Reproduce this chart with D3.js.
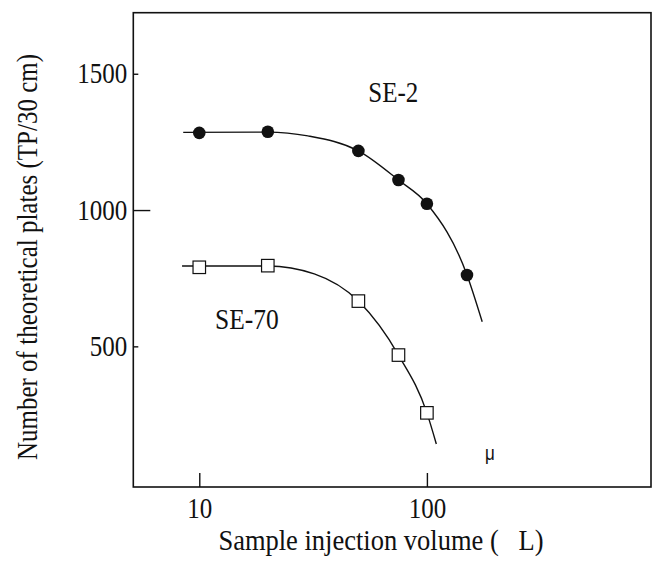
<!DOCTYPE html>
<html>
<head>
<meta charset="utf-8">
<script src="https://cdn.jsdelivr.net/npm/d3@7"></script>
<style>
  body { margin: 0; background: #fff; }
  text { font-family: "Liberation Serif", "Times New Roman", serif; fill: #111; }
</style>
</head>
<body>
<svg id="body" width="659" height="565"></svg>
<script>
// measured points
const se2Volume = [10, 20, 50, 75, 100, 150]
const se2Plates = [1283, 1287, 1217, 1110, 1023, 762]
const se70Volume = [10, 20, 50, 75, 100]
const se70Plates = [790, 796, 666, 468, 256]

// hand drawn fit lines
const se2CurveVolume = [8.5, 20, 30, 50, 75, 100, 150, 175]
const se2CurvePlates = [1285, 1286, 1272, 1217, 1110, 1023, 762, 590]
const se70CurveVolume = [8.4, 20, 32, 50, 75, 100, 110]
const se70CurvePlates = [795, 795, 766, 666, 468, 256, 142]

const xTicks = [10, 100]
const yTicks = [500, 1000, 1500]

const svg = d3.select("#body")
const plotLeft = 133.3, plotRight = 651, plotTop = 12.7, plotBottom = 487
const stretch = 1.15 // glyphs in the original are a bit taller than Times

const x = d3.scaleLog().domain([5.13, 965]).range([plotLeft, plotRight])
const y = d3.scaleLinear().domain([-16, 1724]).range([plotBottom, plotTop])

// frame
svg.append("rect")
    .attr("x", plotLeft).attr("y", plotTop)
    .attr("width", plotRight - plotLeft).attr("height", plotBottom - plotTop)
    .attr("fill", "none").attr("stroke", "#111").attr("stroke-width", 1.6)

const yAxis = svg.append("g")
    .attr("transform", `translate(${plotLeft},0)`)
    .call(d3.axisLeft(y).tickValues(yTicks).tickFormat(d3.format("d"))
        .tickSizeInner(-5).tickSizeOuter(0).tickPadding(6))
yAxis.select(".domain").remove()
yAxis.selectAll("line").attr("stroke", "#111").attr("stroke-width", 1.4)
    .attr("x2", d => d === 1000 ? 17 : 5)
yAxis.selectAll("text").attr("font-size", 25).attr("fill", "#111")
    .style("font-family", "'Liberation Serif', serif")
    .attr("transform", `scale(1,${stretch})`)

const xAxis = svg.append("g")
    .attr("transform", `translate(0,${plotBottom})`)
    .call(d3.axisBottom(x).tickValues(xTicks).tickFormat(d3.format("d"))
        .tickSizeInner(-14).tickSizeOuter(0).tickPadding(9))
xAxis.select(".domain").remove()
xAxis.selectAll("line").attr("stroke", "#111").attr("stroke-width", 1.4)
xAxis.selectAll("text").attr("font-size", 25).attr("fill", "#111")
    .style("font-family", "'Liberation Serif', serif")
    .attr("transform", `scale(1,${stretch})`)

// curves
const line = d3.line()
    .x(d => x(d[0]))
    .y(d => y(d[1]))
    .curve(d3.curveMonotoneX)

svg.append("path")
    .datum(d3.zip(se2CurveVolume, se2CurvePlates))
    .attr("d", line)
    .attr("fill", "none").attr("stroke", "#111").attr("stroke-width", 1.4)

svg.append("path")
    .datum(d3.zip(se70CurveVolume, se70CurvePlates))
    .attr("d", line)
    .attr("fill", "none").attr("stroke", "#111").attr("stroke-width", 1.4)

// markers
svg.append("g")
    .selectAll("circle")
    .data(d3.zip(se2Volume, se2Plates))
    .enter()
    .append("circle")
    .attr("cx", d => x(d[0]))
    .attr("cy", d => y(d[1]))
    .attr("r", 6.3)
    .attr("fill", "#111")

const sq = 12.5
svg.append("g")
    .selectAll("rect")
    .data(d3.zip(se70Volume, se70Plates))
    .enter()
    .append("rect")
    .attr("x", d => x(d[0]) - sq / 2)
    .attr("y", d => y(d[1]) - sq / 2)
    .attr("width", sq).attr("height", sq)
    .attr("fill", "#fff").attr("stroke", "#111").attr("stroke-width", 1.2)

// labels
function label(tx, ty, size, str, extra) {
    return svg.append("text")
        .attr("transform", `translate(${tx},${ty}) ${extra || ""} scale(1,${stretch})`)
        .attr("font-size", size)
        .text(str)
}

label(368.3, 102.3, 25, "SE-2")
label(215, 329, 25.5, "SE-70")

label(490, 460, 17, "μ")
    .attr("text-anchor", "middle")
    .style("font-family", "'Liberation Sans', Arial, sans-serif")

label(381, 550, 26.5, "Sample injection volume (   L)")
    .attr("text-anchor", "middle")
    .style("white-space", "pre")

label(37, 257, 25, "Number of theoretical plates (TP/30 cm)", "rotate(-90)")
    .attr("text-anchor", "middle")
</script>
</body>
</html>
